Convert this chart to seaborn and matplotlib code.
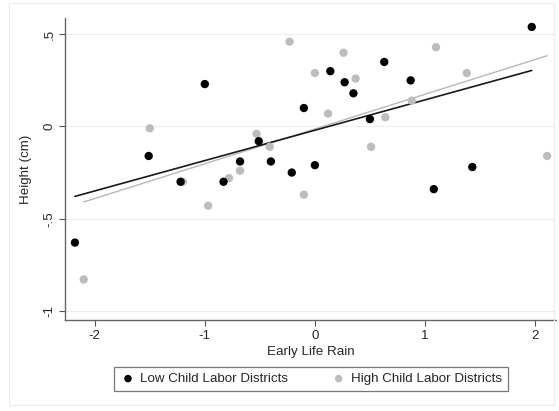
import seaborn as sns
import matplotlib.pyplot as plt
import matplotlib.patches as mpatches
import pandas as pd

sns.set_style("white")
plt.rcParams['font.family'] = ['Liberation Sans', 'DejaVu Sans']

# Low child labor districts (black)
low_rain = [-2.18, -1.51, -1.22, -1.00, -0.83, -0.68, -0.51, -0.40, -0.21, -0.10,
            0.00, 0.14, 0.27, 0.35, 0.50, 0.63, 0.87, 1.08, 1.43, 1.97]
low_height = [-0.63, -0.16, -0.30, 0.23, -0.30, -0.19, -0.08, -0.19, -0.25, 0.10,
              -0.21, 0.30, 0.24, 0.18, 0.04, 0.35, 0.25, -0.34, -0.22, 0.54]

# High child labor districts (gray)
high_rain = [-2.10, -1.50, -1.20, -0.97, -0.78, -0.68, -0.53, -0.41, -0.23, -0.10,
             0.00, 0.12, 0.26, 0.37, 0.51, 0.64, 0.88, 1.10, 1.38, 2.11]
high_height = [-0.83, -0.01, -0.30, -0.43, -0.28, -0.24, -0.04, -0.11, 0.46, -0.37,
               0.29, 0.07, 0.40, 0.26, -0.11, 0.05, 0.14, 0.43, 0.29, -0.16]

y_ticks = [-1, -0.5, 0, 0.5]
y_tick_labels = ["-1", "-.5", "0", ".5"]
x_ticks = [-2, -1, 0, 1, 2]

low = pd.DataFrame({"rain": low_rain, "height": low_height})
high = pd.DataFrame({"rain": high_rain, "height": high_height})

fs = 9.6

fig = plt.figure(figsize=(5.59, 4.11), dpi=100)
fig.patches.append(mpatches.Rectangle((0.016, 0.015), 0.975, 0.978, transform=fig.transFigure,
                                      fill=False, edgecolor="#ececec", linewidth=0.8))
ax = fig.add_axes([0.1163, 0.2214, 0.8783, 0.7346])

for y in y_ticks:
    ax.axhline(y, color="#eeeeee", linewidth=0.8, zorder=0)

# fitted lines
sns.regplot(x="rain", y="height", data=high, ci=None, scatter=False, truncate=True,
            line_kws={"color": "#b8b8b8", "linewidth": 1.0}, ax=ax)
sns.regplot(x="rain", y="height", data=low, ci=None, scatter=False, truncate=True,
            line_kws={"color": "#1a1a1a", "linewidth": 1.2}, ax=ax)

sns.scatterplot(x="rain", y="height", data=high, color="#bdbdbd", s=36, edgecolor="none",
                ax=ax, label="High Child Labor Districts", zorder=3)
sns.scatterplot(x="rain", y="height", data=low, color="black", s=36, edgecolor="none",
                ax=ax, label="Low Child Labor Districts", zorder=4)

ax.set_xlim(-2.27, 2.19)
ax.set_ylim(-1.05, 0.588)
ax.set_xticks(x_ticks)
ax.set_xticklabels([str(t) for t in x_ticks])
ax.set_yticks(y_ticks)
ax.set_yticklabels(y_tick_labels, rotation=90, va="center")
ax.tick_params(axis="both", direction="out", length=4, width=0.8, color="#555555",
               labelsize=fs, pad=3, left=True, bottom=True)

for side in ["top", "right"]:
    ax.spines[side].set_visible(False)
for side in ["left", "bottom"]:
    ax.spines[side].set_color("#666666")
    ax.spines[side].set_linewidth(1.0)

ax.set_xlabel("Early Life Rain", fontsize=fs, labelpad=3)
ax.set_ylabel("Height (cm)", fontsize=fs, labelpad=8)

handles, labels = ax.get_legend_handles_labels()
ax.legend_.remove()
order = [1, 0]
leg = fig.legend([handles[i] for i in order], [labels[i] for i in order], loc="center",
                 bbox_to_anchor=(0.556, 0.078), ncol=2, frameon=True, fancybox=False,
                 edgecolor="#555555", fontsize=fs, columnspacing=3.2, handletextpad=0.3,
                 borderpad=0.45, handlelength=1.2, markerscale=0.9)
leg.get_frame().set_linewidth(0.9)

fig.savefig("out.png", dpi=100, facecolor="white")
